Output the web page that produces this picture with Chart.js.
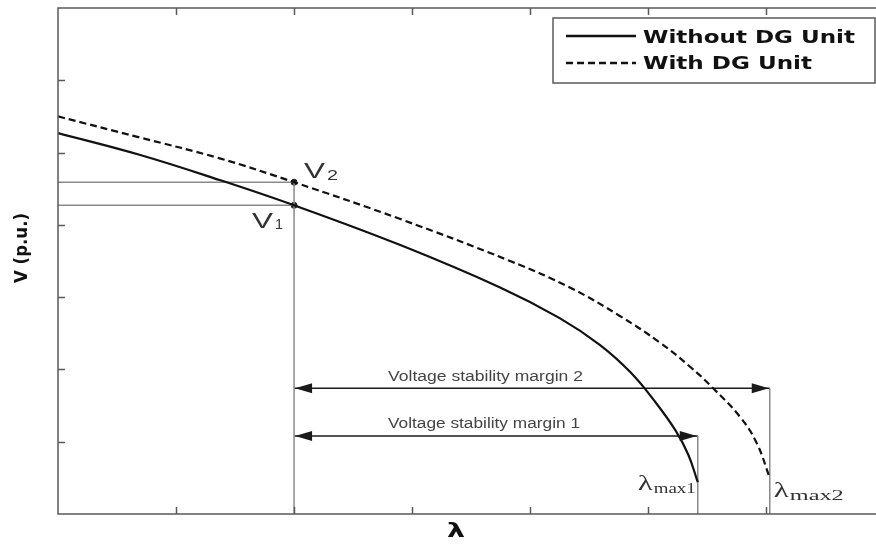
<!DOCTYPE html>
<html lang="en">
<head>
    <meta charset="UTF-8">
    <title>PV curve with and without DG unit</title>
    <script src="https://cdn.jsdelivr.net/npm/chart.js"></script>
    <style>
        body { margin: 0; background: #fff; overflow: hidden; }
        #pvChart { display: block; }
    </style>
</head>
<body>
    <canvas id="pvChart" width="876" height="544"></canvas>

    <script>
    // --- PV curve data (lambda loading factor vs bus voltage) ---
    const lambdaWithout = [0, 0.69, 1.37, 2.0, 2.90, 3.75, 4.25, 4.59, 4.85, 5.06, 5.23, 5.34, 5.42];
    const voltWithout   = [5.27, 4.97, 4.62, 4.27, 3.72, 3.13, 2.71, 2.34, 1.96, 1.55, 1.16, 0.82, 0.44];

    const lambdaWith = [0, 0.69, 1.37, 2.0, 2.90, 3.83, 4.34, 4.76, 5.10, 5.36, 5.55, 5.78, 5.92, 6.03];
    const voltWith   = [5.50, 5.21, 4.92, 4.59, 4.08, 3.50, 3.13, 2.74, 2.37, 2.03, 1.74, 1.34, 0.98, 0.50];

    // operating point and collapse points
    const lambdaOp = 2.0;
    const v1 = 4.27;
    const v2 = 4.59;
    const lambdaMax1 = 5.42;
    const lambdaMax2 = 6.03;
    const margin1Level = 1.08;
    const margin2Level = 1.74;

    const xTicks = [1, 2, 3, 4, 5, 6];
    const yTicks = [1, 2, 3, 4, 5, 6];
    const xMax = 6.93;
    const yMax = 7;

    const toPoints = (xs, ys) => xs.map((x, i) => ({ x: x, y: ys[i] }));

    function guide(points, color) {
        return {
            label: '',
            data: points,
            borderColor: color,
            borderWidth: 1.5,
            pointRadius: 0,
            tension: 0,
            isGuide: true
        };
    }

    // draw text squeezed/stretched to a given width
    function fitText(ctx, text, x, y, font, width, align) {
        ctx.save();
        ctx.font = font;
        const w = ctx.measureText(text).width;
        const sx = width ? width / w : 1;
        let left = x;
        if (align === 'center') left = x - (w * sx) / 2;
        ctx.translate(left, y);
        ctx.scale(sx, 1);
        ctx.textAlign = 'left';
        ctx.fillText(text, 0, 0);
        ctx.restore();
        return w * sx;
    }

    function arrowHead(ctx, tipX, tipY, dir) {
        const len = 17, half = 5;
        ctx.beginPath();
        ctx.moveTo(tipX, tipY);
        ctx.lineTo(tipX - dir * len, tipY - half);
        ctx.lineTo(tipX - dir * len, tipY + half);
        ctx.closePath();
        ctx.fill();
    }

    // frame, inward ticks, axis titles, legend and annotations
    const decorations = {
        id: 'decorations',
        afterDatasetsDraw(chart) {
            const ctx = chart.ctx;
            const xs = chart.scales.x, ys = chart.scales.y;
            const a = chart.chartArea;

            ctx.save();
            ctx.strokeStyle = '#5a5a5a';
            ctx.lineWidth = 1.5;
            ctx.beginPath();
            ctx.moveTo(a.right, a.top);
            ctx.lineTo(a.left, a.top);
            ctx.lineTo(a.left, a.bottom);
            ctx.lineTo(a.right, a.bottom);
            ctx.stroke();

            ctx.beginPath();
            xTicks.forEach(t => {
                const px = Math.round(xs.getPixelForValue(t)) + 0.5;
                ctx.moveTo(px, a.bottom);
                ctx.lineTo(px, a.bottom - 7);
                ctx.moveTo(px, a.top);
                ctx.lineTo(px, a.top + 7);
            });
            yTicks.forEach(t => {
                const py = Math.round(ys.getPixelForValue(t)) + 0.5;
                ctx.moveTo(a.left, py);
                ctx.lineTo(a.left + 7, py);
            });
            ctx.stroke();

            // margin arrowheads
            ctx.fillStyle = '#1a1a1a';
            [[margin2Level, lambdaMax2], [margin1Level, lambdaMax1]].forEach(([lvl, lmax]) => {
                const py = ys.getPixelForValue(lvl);
                arrowHead(ctx, xs.getPixelForValue(lambdaOp) + 1, py, -1);
                arrowHead(ctx, xs.getPixelForValue(lmax) - 1, py, 1);
            });

            // margin captions
            ctx.fillStyle = '#444';
            fitText(ctx, 'Voltage stability margin 2', 388, ys.getPixelForValue(margin2Level) - 7,
                '14px "Liberation Sans", Arial, sans-serif', 195);
            fitText(ctx, 'Voltage stability margin 1', 388, ys.getPixelForValue(margin1Level) - 8,
                '14px "Liberation Sans", Arial, sans-serif', 192);

            // operating point labels
            ctx.fillStyle = '#333';
            const opX = xs.getPixelForValue(lambdaOp);
            let w = fitText(ctx, 'V', opX + 10, ys.getPixelForValue(v2) - 4,
                '22px "Liberation Sans", Arial, sans-serif', 21);
            fitText(ctx, '2', opX + 12 + w, ys.getPixelForValue(v2) - 2,
                '15px "Liberation Sans", Arial, sans-serif', 11);
            w = fitText(ctx, 'V', opX - 42, ys.getPixelForValue(v1) + 23,
                '22px "Liberation Sans", Arial, sans-serif', 21);
            fitText(ctx, '1', opX - 42 + w + 2, ys.getPixelForValue(v1) + 24,
                '15px "Liberation Sans", Arial, sans-serif', 8);

            // collapse point labels
            const serif = '"Liberation Serif", "Times New Roman", serif';
            let lx = xs.getPixelForValue(lambdaMax1) - 60;
            w = fitText(ctx, 'λ', lx, 490, '22px ' + serif, 15);
            fitText(ctx, 'max1', lx + w + 1, 493, '15px ' + serif, 42);
            lx = xs.getPixelForValue(lambdaMax2) + 4;
            w = fitText(ctx, 'λ', lx, 497, '22px ' + serif, 15);
            fitText(ctx, 'max2', lx + w + 1, 500, '15px ' + serif, 54);

            // axis titles
            ctx.fillStyle = '#111';
            fitText(ctx, 'λ', 456, 537, 'bold 20px "DejaVu Sans", sans-serif', 18, 'center');
            ctx.save();
            ctx.translate(27, 248);
            ctx.rotate(-Math.PI / 2);
            fitText(ctx, 'V (p.u.)', 0, 0, 'bold 17px "DejaVu Sans", sans-serif', 70, 'center');
            ctx.restore();

            // legend
            ctx.fillStyle = '#fff';
            ctx.fillRect(553, 18, 322, 65);
            ctx.strokeStyle = '#5a5a5a';
            ctx.lineWidth = 1.5;
            ctx.strokeRect(553, 18, 322, 65);
            const items = chart.data.datasets.filter(d => !d.isGuide && d.label);
            const rows = [{ y: 36, base: 43, width: 212 }, { y: 63, base: 69, width: 169 }];
            items.forEach((d, i) => {
                const r = rows[i];
                ctx.strokeStyle = '#111';
                ctx.lineWidth = 2.5;
                ctx.setLineDash(d.borderDash || []);
                ctx.beginPath();
                ctx.moveTo(566, r.y);
                ctx.lineTo(636, r.y);
                ctx.stroke();
                ctx.setLineDash([]);
                ctx.fillStyle = '#111';
                fitText(ctx, d.label, 643, r.base, 'bold 18px "DejaVu Sans", sans-serif', r.width);
            });
            ctx.restore();
        }
    };

    const guideColor = '#8a8a8a';
    const arrowColor = '#1a1a1a';

    new Chart(document.getElementById('pvChart').getContext('2d'), {
        type: 'line',
        data: {
            datasets: [
                {
                    label: 'Without DG Unit',
                    data: toPoints(lambdaWithout, voltWithout),
                    borderColor: '#111',
                    borderWidth: 2.2,
                    pointRadius: 0,
                    tension: 0.4
                },
                {
                    label: 'With DG Unit',
                    data: toPoints(lambdaWith, voltWith),
                    borderColor: '#111',
                    borderWidth: 2.2,
                    borderDash: [7, 4],
                    pointRadius: 0,
                    tension: 0.4
                },
                guide([{ x: 0, y: v2 }, { x: lambdaOp, y: v2 }], guideColor),
                guide([{ x: 0, y: v1 }, { x: lambdaOp, y: v1 }], guideColor),
                guide([{ x: lambdaOp, y: v2 }, { x: lambdaOp, y: 0 }], guideColor),
                guide([{ x: lambdaMax1, y: margin1Level }, { x: lambdaMax1, y: 0 }], guideColor),
                guide([{ x: lambdaMax2, y: margin2Level }, { x: lambdaMax2, y: 0 }], guideColor),
                guide([{ x: lambdaOp, y: margin2Level }, { x: lambdaMax2, y: margin2Level }], arrowColor),
                guide([{ x: lambdaOp, y: margin1Level }, { x: lambdaMax1, y: margin1Level }], arrowColor),
                {
                    label: '',
                    type: 'scatter',
                    data: [{ x: lambdaOp, y: v2 }, { x: lambdaOp, y: v1 }],
                    pointRadius: 3,
                    pointBackgroundColor: '#222',
                    pointBorderColor: '#222',
                    isGuide: true
                }
            ]
        },
        options: {
            responsive: false,
            animation: false,
            devicePixelRatio: 1,
            layout: { autoPadding: false, padding: { left: 58, top: 8, right: 0, bottom: 30 } },
            plugins: {
                legend: { display: false },
                tooltip: { enabled: false }
            },
            scales: {
                x: { type: 'linear', min: 0, max: xMax, display: false },
                y: { type: 'linear', min: 0, max: yMax, display: false }
            }
        },
        plugins: [decorations]
    });
    </script>
</body>
</html>
